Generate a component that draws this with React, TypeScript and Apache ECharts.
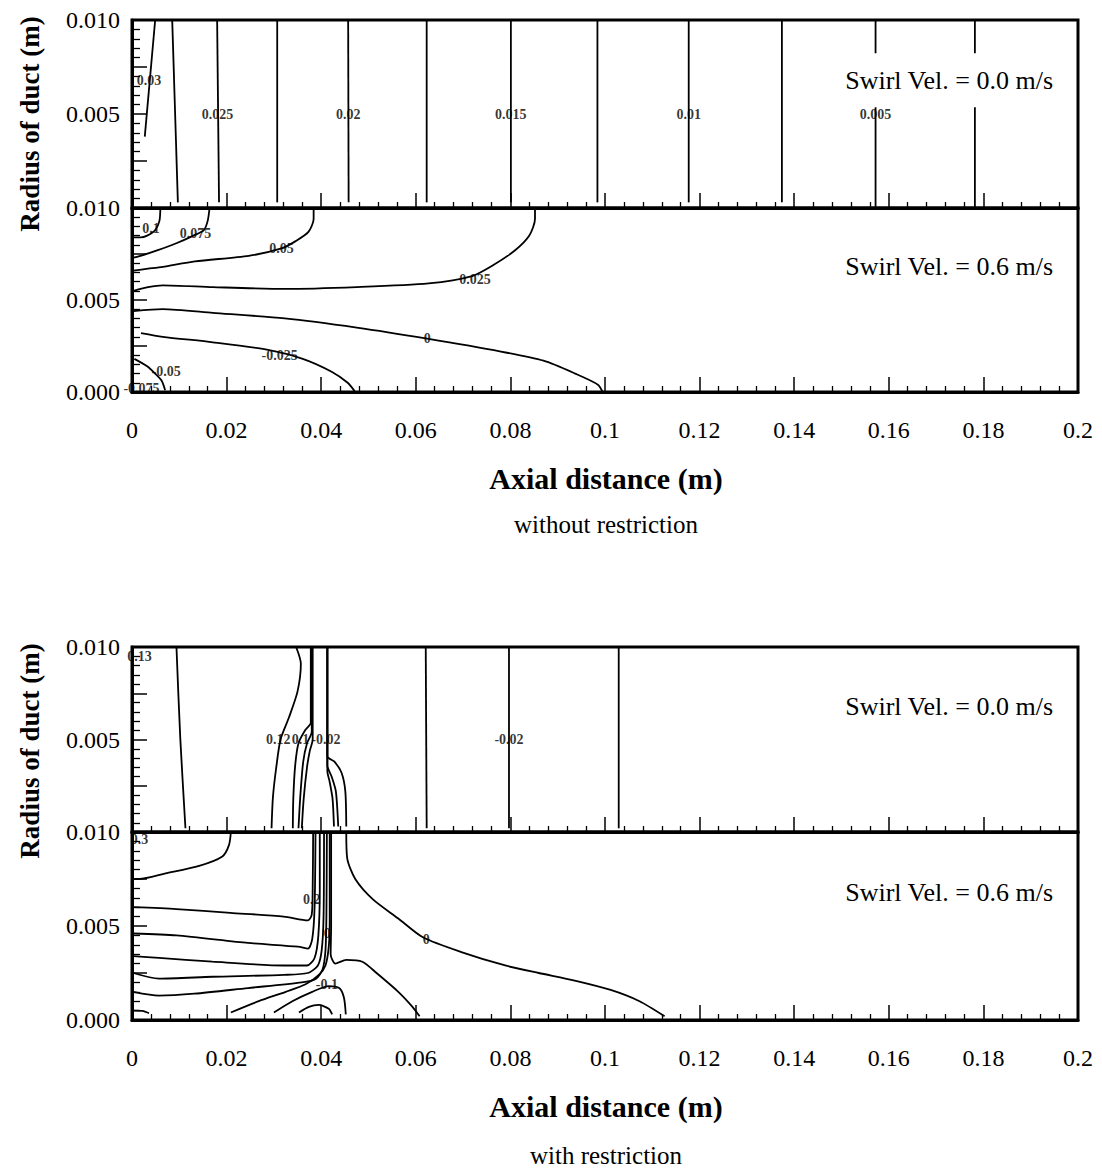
import React, { useEffect, useRef } from "react";
import * as echarts from "echarts";

type Pt = [number, number];
type Tag = { t: string; x: number; y: number };

const FONT = '"Liberation Serif", "Times New Roman", serif';

// Axis ranges (m)
const X_MIN = 0;
const X_MAX = 0.2;
const X_STEP = 0.02;
const Y_MIN = 0;
const Y_MAX = 0.01;
const Y_STEP = 0.0025;

// ---- Without restriction, swirl 0.0 m/s : isolines (axial distance, radius)
const openSwirl00: Pt[][] = [
  [[0.0049, 0.01], [0.0027, 0.0038]],
  [[0.0085, 0.01], [0.0097, 0.0003]],
  [[0.018, 0.01], [0.0184, 0.0003]],
  [[0.0307, 0.01], [0.0307, 0.0003]],
  [[0.0457, 0.01], [0.0458, 0.0003]],
  [[0.0623, 0.01], [0.0623, 0.0003]],
  [[0.0801, 0.01], [0.0801, 0.0003]],
  [[0.0984, 0.01], [0.0984, 0.0003]],
  [[0.1177, 0.01], [0.1177, 0.0003]],
  [[0.1374, 0.01], [0.1374, 0.0003]],
  [[0.1572, 0.01], [0.1572, 0]],
  [[0.1782, 0.01], [0.1782, 0]],
];
const openSwirl00Tags: Tag[] = [
  { t: "0.03", x: 0.0036, y: 0.0068 },
  { t: "0.025", x: 0.0181, y: 0.005 },
  { t: "0.02", x: 0.0457, y: 0.005 },
  { t: "0.015", x: 0.0801, y: 0.005 },
  { t: "0.01", x: 0.1177, y: 0.005 },
  { t: "0.005", x: 0.1572, y: 0.005 },
];

// ---- Without restriction, swirl 0.6 m/s
const openSwirl06: Pt[][] = [
  [[0.006, 0.01], [0.0058, 0.0093], [0.0049, 0.0088], [0.0032, 0.0085], [0.0018, 0.0084], [0.0003, 0.0084]],
  [[0.0164, 0.01], [0.016, 0.0093], [0.0152, 0.0088], [0.013, 0.0085], [0.0095, 0.0081], [0.0053, 0.0077], [0.0018, 0.0074], [0.0003, 0.0073]],
  [[0.0384, 0.01], [0.0384, 0.0094], [0.0373, 0.0087], [0.0346, 0.0082], [0.0316, 0.0078], [0.0247, 0.0074], [0.0133, 0.0071], [0.0065, 0.0068], [0.0034, 0.0067], [0.0003, 0.0066]],
  [[0.0852, 0.01], [0.0852, 0.0094], [0.084, 0.0085], [0.081, 0.0077], [0.0764, 0.0069], [0.0719, 0.0063], [0.0627, 0.0059], [0.0475, 0.0057], [0.0323, 0.0056], [0.0171, 0.0057], [0.0065, 0.0058], [0.0034, 0.0057], [0.0003, 0.0055]],
  [[0.0003, 0.0044], [0.0065, 0.0045], [0.0171, 0.0043], [0.0323, 0.004], [0.0475, 0.0035], [0.0624, 0.0029], [0.078, 0.0022], [0.087, 0.0017], [0.0937, 0.001], [0.0985, 0.0004], [0.0995, 0]],
  [[0.0019, 0.0032], [0.0065, 0.003], [0.0171, 0.0027], [0.0285, 0.0023], [0.0361, 0.0018], [0.0422, 0.0011], [0.0456, 0.0005], [0.0472, 0]],
  [[0.0005, 0.0018], [0.0032, 0.0014], [0.0049, 0.001], [0.0063, 0.0006], [0.007, 0.0001]],
];
const openSwirl06Tags: Tag[] = [
  { t: "0.1", x: 0.004, y: 0.0089 },
  { t: "0.075", x: 0.0134, y: 0.0086 },
  { t: "0.05", x: 0.0316, y: 0.0078 },
  { t: "0.025", x: 0.0725, y: 0.0061 },
  { t: "0", x: 0.0624, y: 0.0029 },
  { t: "-0.025", x: 0.0312, y: 0.002 },
  { t: "-0.05", x: 0.0072, y: 0.0011 },
  { t: "-0.075", x: 0.002, y: 0.00017 },
];

// ---- With restriction, swirl 0.0 m/s
const restrSwirl00: Pt[][] = [
  [[0.0094, 0.01], [0.0102, 0.0051], [0.0113, 0.0002]],
  [[0.0347, 0.01], [0.0357, 0.0091], [0.035, 0.0076], [0.0332, 0.0062], [0.0314, 0.005], [0.0305, 0.0035], [0.0298, 0.0019], [0.0295, 0.0002]],
  [[0.0378, 0.01], [0.0378, 0.0059], [0.0366, 0.0055], [0.0352, 0.0048], [0.0345, 0.0036], [0.0341, 0.0018], [0.034, 0.0002]],
  [[0.038, 0.01], [0.038, 0.0054], [0.037, 0.0048], [0.0362, 0.0038], [0.0356, 0.002], [0.0352, 0.0002]],
  [[0.0382, 0.01], [0.0382, 0.005], [0.0376, 0.0044], [0.037, 0.0035], [0.0363, 0.0018], [0.0359, 0.0002]],
  [[0.0413, 0.01], [0.0413, 0.0041], [0.0428, 0.0038], [0.0443, 0.0032], [0.0451, 0.0022], [0.0453, 0.0003]],
  [[0.0413, 0.01], [0.0413, 0.0036], [0.0422, 0.003], [0.0431, 0.0022], [0.0436, 0.0003]],
  [[0.0413, 0.01], [0.0413, 0.0033], [0.0418, 0.0027], [0.0424, 0.0018], [0.0427, 0.0003]],
  [[0.0621, 0.01], [0.0623, 0.0002]],
  [[0.0797, 0.01], [0.0797, 0.0002]],
  [[0.1029, 0.01], [0.1029, 0.0002]],
];
const restrSwirl00Tags: Tag[] = [
  { t: "0.13", x: 0.0016, y: 0.0095 },
  { t: "0.12", x: 0.0309, y: 0.005 },
  { t: "0.1", x: 0.0356, y: 0.005 },
  { t: "-0.02", x: 0.041, y: 0.005 },
  { t: "-0.02", x: 0.0797, y: 0.005 },
];

// ---- With restriction, swirl 0.6 m/s
const restrSwirl06: Pt[][] = [
  [[0.0209, 0.01], [0.0205, 0.0093], [0.0191, 0.0087], [0.0142, 0.0082], [0.0071, 0.0078], [0.0015, 0.0075], [0.0003, 0.0075]],
  [[0.0003, 0.006], [0.0094, 0.0059], [0.0208, 0.0057], [0.0321, 0.0055], [0.0372, 0.0053], [0.038, 0.0056], [0.0382, 0.007], [0.0383, 0.01]],
  [[0.0003, 0.0046], [0.0094, 0.0045], [0.0245, 0.0041], [0.0351, 0.0039], [0.0372, 0.0038], [0.0381, 0.0043], [0.0386, 0.006], [0.0388, 0.01]],
  [[0.0003, 0.0034], [0.0057, 0.0033], [0.017, 0.0031], [0.0321, 0.0029], [0.037, 0.0029], [0.0386, 0.0033], [0.0394, 0.0045], [0.0397, 0.007], [0.0397, 0.01]],
  [[0.0003, 0.0025], [0.0057, 0.0022], [0.017, 0.0023], [0.0321, 0.0024], [0.0372, 0.0025], [0.0393, 0.0029], [0.0401, 0.0037], [0.0405, 0.0055], [0.0406, 0.01]],
  [[0.0003, 0.0015], [0.0057, 0.0013], [0.0132, 0.0014], [0.0245, 0.0017], [0.0359, 0.002], [0.0389, 0.0022], [0.0403, 0.0027], [0.0409, 0.0037], [0.0411, 0.0055], [0.0412, 0.01]],
  [[0.0209, 0.0004], [0.0268, 0.001], [0.0325, 0.0015], [0.0367, 0.0019], [0.0395, 0.0024], [0.0409, 0.0029], [0.0416, 0.0039], [0.0418, 0.0053], [0.0418, 0.01]],
  [[0.0421, 0.01], [0.0421, 0.005], [0.042, 0.0035], [0.043, 0.003], [0.0453, 0.0032], [0.0487, 0.0031], [0.0517, 0.0025], [0.0563, 0.0015], [0.0593, 0.0007], [0.0608, 0.0002]],
  [[0.03, 0.0004], [0.0339, 0.001], [0.0381, 0.0015], [0.0416, 0.0018], [0.0438, 0.0017], [0.0448, 0.0012], [0.0452, 0.0003]],
  [[0.0353, 0.0004], [0.0374, 0.0007], [0.0395, 0.0008], [0.0416, 0.0006], [0.0423, 0.0003]],
  [[0.0453, 0.01], [0.0455, 0.0086], [0.0472, 0.0075], [0.051, 0.0064], [0.0563, 0.0054], [0.0615, 0.0044], [0.0698, 0.0036], [0.0789, 0.0029], [0.086, 0.0025], [0.0936, 0.0021], [0.1012, 0.0016], [0.1073, 0.001], [0.1126, 0.0002]],
  [[0.0004, 0.0005], [0.0022, 0.00048], [0.0036, 0.00036]],
];
const restrSwirl06Tags: Tag[] = [
  { t: "0.3", x: 0.0016, y: 0.0096 },
  { t: "0.2", x: 0.038, y: 0.0064 },
  { t: "0", x: 0.0413, y: 0.0046 },
  { t: "0", x: 0.0622, y: 0.0043 },
  { t: "-0.1", x: 0.0412, y: 0.0019 },
];

const swirlTexts = ["Swirl Vel. = 0.0 m/s", "Swirl Vel. = 0.6 m/s"];
const captions = ["without restriction", "with restriction"];
const xTitle = "Axial distance (m)";
const yTitle = "Radius of duct (m)";

// panel frames in page pixels
const panels = [
  { top: 20, height: 188, bottom: false, lines: openSwirl00, tags: openSwirl00Tags, swirl: 0 },
  { top: 208, height: 184, bottom: true, lines: openSwirl06, tags: openSwirl06Tags, swirl: 1 },
  { top: 647, height: 185, bottom: false, lines: restrSwirl00, tags: restrSwirl00Tags, swirl: 0 },
  { top: 832, height: 188, bottom: true, lines: restrSwirl06, tags: restrSwirl06Tags, swirl: 1 },
];
const GRID_LEFT = 132;
const GRID_WIDTH = 946;

function buildOption(): echarts.EChartsOption {
  const grid = panels.map((p) => ({
    left: GRID_LEFT,
    width: GRID_WIDTH,
    top: p.top,
    height: p.height,
    show: true,
    borderColor: "#000",
    borderWidth: 3,
    backgroundColor: "transparent",
  }));

  const xAxis = panels.map((p, i) => ({
    gridIndex: i,
    type: "value" as const,
    min: X_MIN,
    max: X_MAX,
    interval: X_STEP,
    axisLine: { show: true, onZero: false, lineStyle: { color: "#000", width: 3 } },
    splitLine: { show: false },
    axisTick: { show: true, inside: true, length: 15, lineStyle: { color: "#000", width: 1.5 } },
    minorTick: { show: true, splitNumber: 5, length: 6, lineStyle: { color: "#000", width: 1.3 } },
    axisLabel: {
      show: p.bottom,
      margin: 26,
      fontFamily: FONT,
      fontSize: 24,
      color: "#000",
      formatter: (v: number) => String(+v.toFixed(2)),
    },
  }));

  const yAxis = panels.map((p, i) => ({
    gridIndex: i,
    type: "value" as const,
    min: Y_MIN,
    max: Y_MAX,
    interval: Y_STEP,
    axisLine: { show: true, onZero: false, lineStyle: { color: "#000", width: 3 } },
    splitLine: { show: false },
    axisTick: { show: true, inside: true, length: 15, lineStyle: { color: "#000", width: 1.5 } },
    minorTick: { show: true, splitNumber: 5, length: 8, lineStyle: { color: "#000", width: 1.3 } },
    axisLabel: {
      margin: 12,
      fontFamily: FONT,
      fontSize: 24,
      color: "#000",
      formatter: (v: number) => {
        const k = Math.round(v / Y_STEP);
        if (k % 2 !== 0) return "";
        if (k === 0 && !p.bottom) return "";
        return v.toFixed(3);
      },
    },
  }));

  const series: any[] = [];
  panels.forEach((p, i) => {
    p.lines.forEach((pts) => {
      series.push({
        type: "line",
        xAxisIndex: i,
        yAxisIndex: i,
        data: pts,
        symbol: "none",
        showSymbol: false,
        smooth: pts.length > 2 ? 0.25 : false,
        lineStyle: { color: "#000", width: 1.8 },
        silent: true,
        z: 3,
      });
    });
    series.push({
      type: "scatter",
      xAxisIndex: i,
      yAxisIndex: i,
      data: p.tags.map((g) => ({ name: g.t, value: [g.x, g.y] })),
      symbolSize: 1,
      itemStyle: { color: "rgba(0,0,0,0)" },
      label: {
        show: true,
        position: "inside",
        formatter: "{b}",
        fontFamily: FONT,
        fontSize: 14,
        fontWeight: "bold",
        color: "#000",
        textBorderWidth: 0,
        textBorderColor: "transparent",
      },
      silent: true,
      z: 4,
    });
  });

  const graphic: any[] = [];
  panels.forEach((p) => {
    graphic.push({
      type: "text",
      x: 1056,
      y: p.top + p.height * 0.32,
      z: 20,
      style: {
        text: swirlTexts[p.swirl],
        font: `26px ${FONT}`,
        fill: "#000",
        align: "right",
        verticalAlign: "middle",
        backgroundColor: "#fff",
        padding: [14, 3],
      },
    });
  });
  [0, 2].forEach((topIdx, f) => {
    const top = panels[topIdx].top;
    const bottom = panels[topIdx + 1].top + panels[topIdx + 1].height;
    graphic.push({
      type: "text",
      x: 30,
      y: top + 104,
      rotation: Math.PI / 2,
      z: 20,
      style: { text: yTitle, font: `bold 27px ${FONT}`, fill: "#000", align: "center", verticalAlign: "middle" },
    });
    graphic.push({
      type: "text",
      x: 606,
      y: bottom + 86,
      z: 20,
      style: { text: xTitle, font: `bold 30px ${FONT}`, fill: "#000", align: "center", verticalAlign: "middle" },
    });
    graphic.push({
      type: "text",
      x: 606,
      y: bottom + (f === 0 ? 132 : 135),
      z: 20,
      style: { text: captions[f], font: `25px ${FONT}`, fill: "#000", align: "center", verticalAlign: "middle" },
    });
  });

  return {
    animation: false,
    backgroundColor: "#fff",
    grid,
    xAxis,
    yAxis,
    series,
    graphic,
  } as any;
}

export default function App() {
  const ref = useRef<HTMLDivElement>(null);
  useEffect(() => {
    if (!ref.current) return;
    const chart = echarts.init(ref.current, null, { renderer: "svg" });
    chart.setOption(buildOption());
    return () => chart.dispose();
  }, []);
  return (
    <div
      ref={ref}
      style={{ position: "absolute", left: 0, top: 0, width: 1102, height: 1171, background: "#fff" }}
    />
  );
}
